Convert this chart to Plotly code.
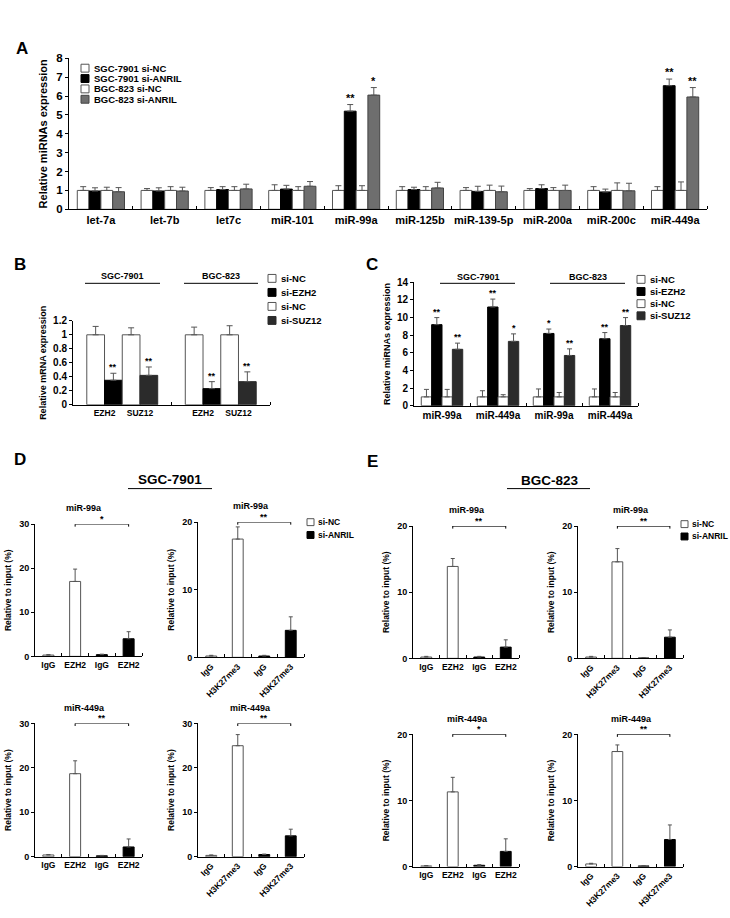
import plotly.graph_objects as go

W, H = 730, 918
FONT = "Liberation Sans, Arial, Helvetica, sans-serif"
WHITE, BLACK, GRAY, DARK = "#ffffff", "#000000", "#6e6e6e", "#2b2b2b"
EDGE = "#555555"

# ---------------- Panel A data ----------------
a_cats = ["let-7a", "let-7b", "let7c", "miR-101", "miR-99a", "miR-125b",
          "miR-139-5p", "miR-200a", "miR-200c", "miR-449a"]
a_sgc_nc = [1.0, 1.0, 1.0, 1.0, 1.0, 1.0, 1.0, 1.0, 1.0, 1.0]
a_sgc_nc_err = [0.2, 0.1, 0.15, 0.3, 0.25, 0.2, 0.15, 0.1, 0.2, 0.2]
a_sgc_si = [0.97, 0.97, 1.05, 1.07, 5.2, 1.05, 0.95, 1.1, 0.92, 6.55]
a_sgc_si_err = [0.17, 0.17, 0.15, 0.2, 0.35, 0.12, 0.27, 0.2, 0.15, 0.35]
a_bgc_nc = [1.0, 1.0, 1.0, 1.0, 1.0, 1.0, 1.0, 1.0, 1.0, 1.0]
a_bgc_nc_err = [0.17, 0.2, 0.2, 0.2, 0.25, 0.2, 0.28, 0.15, 0.4, 0.45]
a_bgc_si = [0.93, 0.97, 1.08, 1.22, 6.05, 1.13, 0.93, 1.0, 0.98, 5.95]
a_bgc_si_err = [0.22, 0.2, 0.25, 0.25, 0.4, 0.3, 0.3, 0.28, 0.4, 0.5]
a_sig_sgc = ["", "", "", "", "**", "", "", "", "", "**"]
a_sig_bgc = ["", "", "", "", "*", "", "", "", "", "**"]
a_names = ["SGC-7901 si-NC", "SGC-7901 si-ANRIL", "BGC-823 si-NC", "BGC-823 si-ANRIL"]

# ---------------- Panel B data ----------------
b_cells = ["SGC-7901", "BGC-823"]
b_genes = ["EZH2", "SUZ12"]
b_nc1 = [1.0, 1.0]
b_nc1_err = [0.12, 0.11]
b_ezh2 = [0.35, 0.23]
b_ezh2_err = [0.1, 0.1]
b_nc2 = [1.0, 1.0]
b_nc2_err = [0.1, 0.13]
b_suz12 = [0.42, 0.33]
b_suz12_err = [0.12, 0.14]
b_sig_ezh2 = ["**", "**"]
b_sig_suz12 = ["**", "**"]
bc_names = ["si-NC", "si-EZH2", "si-NC", "si-SUZ12"]

# ---------------- Panel C data ----------------
c_cells = ["SGC-7901", "BGC-823"]
c_cats = ["miR-99a", "miR-449a", "miR-99a", "miR-449a"]
c_nc1 = [1.0, 1.0, 1.0, 1.0]
c_nc1_err = [0.85, 0.7, 0.9, 0.9]
c_ezh2 = [9.2, 11.2, 8.2, 7.6]
c_ezh2_err = [0.8, 0.9, 0.5, 0.7]
c_nc2 = [1.0, 1.0, 1.0, 1.0]
c_nc2_err = [0.85, 0.25, 0.5, 0.5]
c_suz12 = [6.4, 7.3, 5.7, 9.1]
c_suz12_err = [0.7, 0.85, 0.75, 0.9]
c_sig_ezh2 = ["**", "**", "*", "**"]
c_sig_suz12 = ["**", "*", "**", "**"]

# ---------------- Panels D / E data ----------------
de_names = ["si-NC", "si-ANRIL"]
ab_ezh2 = ["IgG", "EZH2", "IgG", "EZH2"]
ab_h3 = ["IgG", "H3K27me3", "IgG", "H3K27me3"]
# each subplot: white (si-NC) IgG, antibody ; black (si-ANRIL) IgG, antibody
d1_nc = [0.3, 17.0]; d1_nc_err = [0.1, 2.8]; d1_si = [0.4, 4.0]; d1_si_err = [0.1, 1.6]
d2_nc = [0.2, 17.5]; d2_nc_err = [0.1, 1.8]; d2_si = [0.2, 4.0]; d2_si_err = [0.1, 2.0]
d3_nc = [0.4, 18.7]; d3_nc_err = [0.1, 2.9]; d3_si = [0.2, 2.2]; d3_si_err = [0.1, 1.8]
d4_nc = [0.3, 25.0]; d4_nc_err = [0.1, 2.5]; d4_si = [0.5, 4.7]; d4_si_err = [0.1, 1.5]
e1_nc = [0.2, 13.9]; e1_nc_err = [0.1, 1.2]; e1_si = [0.2, 1.7]; e1_si_err = [0.1, 1.1]
e2_nc = [0.2, 14.6]; e2_nc_err = [0.1, 2.0]; e2_si = [0.05, 3.2]; e2_si_err = [0.05, 1.1]
e3_nc = [0.1, 11.3]; e3_nc_err = [0.05, 2.2]; e3_si = [0.2, 2.3]; e3_si_err = [0.1, 1.9]
e4_nc = [0.4, 17.4]; e4_nc_err = [0.1, 1.0]; e4_si = [0.1, 4.1]; e4_si_err = [0.05, 2.2]
de_sig = {"D1": "*", "D2": "**", "D3": "**", "D4": "**",
          "E1": "**", "E2": "**", "E3": "*", "E4": "**"}
de_titles = {"D1": "miR-99a", "D2": "miR-99a", "D3": "miR-449a", "D4": "miR-449a",
             "E1": "miR-99a", "E2": "miR-99a", "E3": "miR-449a", "E4": "miR-449a"}

fig = go.Figure()
layout_axes = {}
shapes = []
annotations = []


def bold(size):
    return dict(family=FONT, size=size, color="black", weight="bold")


def fx(px):
    return px / W


def fy(py):
    return 1 - py / H


def add_axes(n, xpx, ypx, xrange, yrange, ytickvals, ysize, xtickvals, xticktext,
             xsize, minor_vals, ytitle, ytitlesize, standoff, xtickangle=0):
    xa = "xaxis" if n == 1 else f"xaxis{n}"
    ya = "yaxis" if n == 1 else f"yaxis{n}"
    xid = "x" if n == 1 else f"x{n}"
    yid = "y" if n == 1 else f"y{n}"
    layout_axes[xa] = dict(
        domain=[fx(xpx[0]), fx(xpx[1])], range=xrange, anchor=yid,
        showline=True, linecolor="black", linewidth=1, showgrid=False, zeroline=False,
        tickmode="array", tickvals=xtickvals, ticktext=xticktext, ticks="",
        tickfont=bold(xsize), tickangle=xtickangle, fixedrange=True,
        minor=dict(tickmode="array", tickvals=minor_vals, ticks="inside", ticklen=3,
                   tickcolor="black", tickwidth=1, showgrid=False))
    layout_axes[ya] = dict(
        domain=[fy(ypx[1]), fy(ypx[0])], range=yrange, anchor=xid,
        showline=True, linecolor="black", linewidth=1, showgrid=False, zeroline=False,
        tickmode="array", tickvals=ytickvals, ticks="outside", ticklen=3,
        tickcolor="black", tickfont=bold(ysize), fixedrange=True,
        title=dict(text=ytitle, font=bold(ytitlesize), standoff=standoff))
    return xid, yid


def add_bars(xid, yid, xs, vals, errs, fill, edge, width, name, cap=2.5):
    fig.add_bar(x=xs, y=vals, width=width, name=name, showlegend=False,
                xaxis=xid, yaxis=yid,
                marker=dict(color=fill, line=dict(color=edge, width=1)),
                error_y=dict(type="data", symmetric=False, array=errs,
                             arrayminus=[0] * len(errs), color=EDGE,
                             thickness=1, width=cap))


def add_sig(xid, yid, xs, vals, errs, sigs, size=10):
    for x, v, e, s in zip(xs, vals, errs, sigs):
        if s:
            annotations.append(dict(x=x, y=v + e, xref=xid, yref=yid, text=s,
                                    showarrow=False, yanchor="bottom", yshift=-1,
                                    font=bold(size)))


def add_legend(x0, ytop, spacing, names, fills, edges, size, box=8, gap=3):
    for i, (nm, f, e) in enumerate(zip(names, fills, edges)):
        yc = ytop + i * spacing
        shapes.append(dict(type="rect", xref="paper", yref="paper",
                           x0=fx(x0), x1=fx(x0 + box), y0=fy(yc + box / 2), y1=fy(yc - box / 2),
                           fillcolor=f, line=dict(color=e, width=1)))
        annotations.append(dict(x=fx(x0 + box + gap), y=fy(yc), xref="paper", yref="paper",
                                text=nm, showarrow=False, xanchor="left", yanchor="middle",
                                font=bold(size)))


def add_text(x, y, text, size, anchor="center"):
    annotations.append(dict(x=fx(x), y=fy(y), xref="paper", yref="paper", text=text,
                            showarrow=False, xanchor=anchor, yanchor="middle",
                            font=bold(size)))


def add_hline(x0, x1, y, width=1):
    shapes.append(dict(type="line", xref="paper", yref="paper", x0=fx(x0), x1=fx(x1),
                       y0=fy(y), y1=fy(y), line=dict(color="black", width=width)))


# ---------------- Panel A ----------------
n = len(a_cats)
xA, yA = add_axes(1, (69, 707), (53, 206), [-0.5, n - 0.5], [0, 8], list(range(0, 9)), 11.5,
                  list(range(n)), a_cats, 11, [i + 0.5 for i in range(n)],
                  "Relative miRNAs expression", 11, 6)
bwA = 0.185
seriesA = [(a_sgc_nc, a_sgc_nc_err, WHITE, EDGE), (a_sgc_si, a_sgc_si_err, BLACK, BLACK),
           (a_bgc_nc, a_bgc_nc_err, WHITE, EDGE), (a_bgc_si, a_bgc_si_err, GRAY, "#444444")]
for k, (v, e, f, ed) in enumerate(seriesA):
    xs = [i + (k - 1.5) * bwA for i in range(n)]
    add_bars(xA, yA, xs, v, e, f, ed, bwA, a_names[k], cap=3)
    if k == 1:
        add_sig(xA, yA, xs, v, e, a_sig_sgc, 11)
    if k == 3:
        add_sig(xA, yA, xs, v, e, a_sig_bgc, 11)
add_legend(81, 63, 10.5, a_names, [WHITE, BLACK, WHITE, GRAY], [EDGE, BLACK, EDGE, "#444444"], 9.5)
add_text(22, 43, "A", 17)

# ---------------- Panel B ----------------
bwB = 0.18
offsB = [(k - 1.5) * bwB for k in range(4)]
b_tick_pos = [i + o for i in range(len(b_cells)) for o in (-bwB, bwB)]
b_tick_txt = [g for _ in b_cells for g in b_genes]
xB, yB = add_axes(2, (73, 270), (319, 404), [-0.5, 1.5], [0, 1.2],
                  [0, 0.2, 0.4, 0.6, 0.8, 1, 1.2], 10, b_tick_pos, b_tick_txt, 8.5,
                  [0.5, 1.5], "Relative mRNA expression", 9, 4)
seriesB = [(b_nc1, b_nc1_err, WHITE, EDGE, None), (b_ezh2, b_ezh2_err, BLACK, BLACK, b_sig_ezh2),
           (b_nc2, b_nc2_err, WHITE, EDGE, None), (b_suz12, b_suz12_err, DARK, DARK, b_sig_suz12)]
for k, (v, e, f, ed, sg) in enumerate(seriesB):
    xs = [i + offsB[k] for i in range(len(b_cells))]
    add_bars(xB, yB, xs, v, e, f, ed, bwB, bc_names[k], cap=3)
    if sg:
        add_sig(xB, yB, xs, v, e, sg, 9)
add_text(122, 274, b_cells[0], 9)
add_hline(85, 160, 281)
add_text(221, 274, b_cells[1], 9)
add_hline(184, 258, 281)
add_legend(268, 276, 14.2, bc_names, [WHITE, BLACK, WHITE, DARK], [EDGE, BLACK, EDGE, DARK], 9.5)
add_text(20, 262, "B", 17)

# ---------------- Panel C ----------------
bwC = 0.185
nc = len(c_cats)
xC, yC = add_axes(3, (414, 638), (280, 405), [-0.5, nc - 0.5], [0, 14], list(range(0, 15, 2)), 10,
                  list(range(nc)), c_cats, 10, [i + 0.5 for i in range(nc)],
                  "Relative miRNAs expression", 9, 4)
seriesC = [(c_nc1, c_nc1_err, WHITE, EDGE, None), (c_ezh2, c_ezh2_err, BLACK, BLACK, c_sig_ezh2),
           (c_nc2, c_nc2_err, WHITE, EDGE, None), (c_suz12, c_suz12_err, DARK, DARK, c_sig_suz12)]
for k, (v, e, f, ed, sg) in enumerate(seriesC):
    xs = [i + (k - 1.5) * bwC for i in range(nc)]
    add_bars(xC, yC, xs, v, e, f, ed, bwC, bc_names[k], cap=2.5)
    if sg:
        add_sig(xC, yC, xs, v, e, sg, 9)
add_text(478, 275, c_cells[0], 9)
add_hline(440, 515, 281)
add_text(588, 275, c_cells[1], 9)
add_hline(550, 625, 281)
add_legend(637, 277, 12.3, bc_names, [WHITE, BLACK, WHITE, DARK], [EDGE, BLACK, EDGE, DARK], 9.5)
add_text(372, 262, "C", 17)

# ---------------- Panels D / E ----------------
# key, axis number, x-extent px, y-extent px, y max, tick labels, tick angle, title centre px, data
de_panels = [
    ("D1", 4, (35, 142), (525, 659), 30, ab_ezh2, 0, 84, d1_nc, d1_nc_err, d1_si, d1_si_err),
    ("D2", 5, (198, 304), (523, 660), 20, ab_h3, -45, 251, d2_nc, d2_nc_err, d2_si, d2_si_err),
    ("D3", 6, (35, 142), (727, 862), 30, ab_ezh2, 0, 84, d3_nc, d3_nc_err, d3_si, d3_si_err),
    ("D4", 7, (198, 304), (727, 862), 30, ab_h3, -45, 250, d4_nc, d4_nc_err, d4_si, d4_si_err),
    ("E1", 8, (413, 519), (527, 661), 20, ab_ezh2, 0, 467, e1_nc, e1_nc_err, e1_si, e1_si_err),
    ("E2", 9, (578, 683), (527, 661), 20, ab_h3, -45, 631, e2_nc, e2_nc_err, e2_si, e2_si_err),
    ("E3", 10, (413, 519), (738, 872), 20, ab_ezh2, 0, 467, e3_nc, e3_nc_err, e3_si, e3_si_err),
    ("E4", 11, (578, 683), (738, 872), 20, ab_h3, -45, 631, e4_nc, e4_nc_err, e4_si, e4_si_err),
]
bwD = 0.41
for key, num, xpx, ypx, top, labels, ang, tx, nc_v, nc_e, si_v, si_e in de_panels:
    xid, yid = add_axes(num, xpx, ypx, [-0.5, 3.5], [0, top], list(range(0, top + 1, 10)), 9,
                        list(range(4)), labels, 8.5, [0.5, 1.5, 2.5, 3.5],
                        "Relative to input (%)", 8.5, 6, xtickangle=ang)
    add_bars(xid, yid, [0, 1], nc_v, nc_e, WHITE, EDGE, bwD, de_names[0], cap=2)
    add_bars(xid, yid, [2, 3], si_v, si_e, BLACK, BLACK, bwD, de_names[1], cap=2)
    # significance bracket between antibody bars
    shapes.append(dict(type="line", xref=xid, yref=yid, x0=1, x1=3, y0=top, y1=top,
                       line=dict(color="black", width=1)))
    for xb in (1, 3):
        shapes.append(dict(type="line", xref=xid, yref=yid, x0=xb, x1=xb,
                           ysizemode="pixel", yanchor=top, y0=-2.5, y1=2.5,
                           line=dict(color="black", width=1)))
    annotations.append(dict(x=2, y=top, xref=xid, yref=yid, text=de_sig[key], showarrow=False,
                            yanchor="bottom", yshift=-2, font=bold(9)))
    add_text(tx, ypx[0] - 16, de_titles[key], 9)

add_legend(307, 523, 13, de_names, [WHITE, BLACK], [EDGE, BLACK], 8.5, box=7, gap=2)
add_legend(681, 525, 12.5, de_names, [WHITE, BLACK], [EDGE, BLACK], 8.5, box=7, gap=2)
add_text(20, 459, "D", 17)
add_text(373, 462, "E", 17)
add_text(170, 480, "SGC-7901", 13.5)
add_hline(128, 212, 489)
add_text(550, 481, "BGC-823", 13.5)
add_hline(507, 590, 489)

fig.update_layout(
    width=W, height=H, margin=dict(l=0, r=0, t=0, b=0),
    paper_bgcolor="white", plot_bgcolor="white",
    barmode="overlay", showlegend=False,
    font=dict(family=FONT, color="black"),
    shapes=shapes, annotations=annotations,
    **layout_axes)

# remove the default page margin so the 730x918 figure fills the window exactly
page_fix = ("document.documentElement.style.margin='0';document.body.style.margin='0';"
            "document.body.style.overflow='hidden';"
            "document.documentElement.style.overflow='hidden';")
fig.write_html("out.html", config={"displayModeBar": False, "staticPlot": True},
               post_script=page_fix)
